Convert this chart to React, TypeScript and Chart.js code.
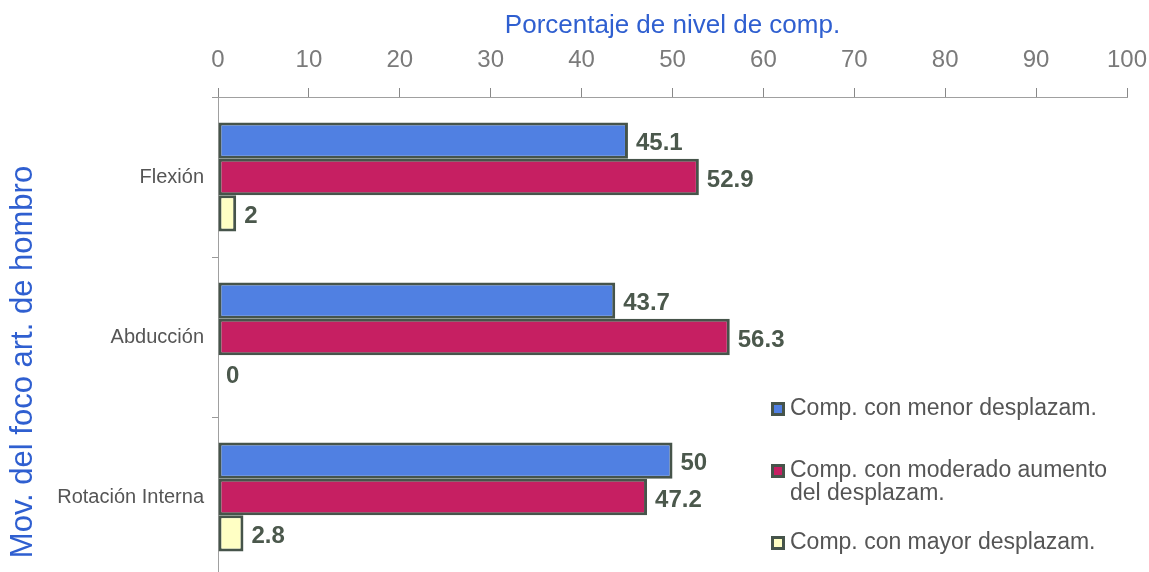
import React, { useEffect, useRef } from "react";
import { Chart, registerables } from "chart.js";

Chart.register(...registerables);

const categories = ["Flexión", "Abducción", "Rotación Interna"];
const seriesNames = [
  "Comp. con menor desplazam.",
  "Comp. con moderado aumento del desplazam.",
  "Comp. con mayor desplazam.",
];
const legendLines = [
  ["Comp. con menor desplazam."],
  ["Comp. con moderado aumento", "del desplazam."],
  ["Comp. con mayor desplazam."],
];
const menor = [45.1, 43.7, 50];
const moderado = [52.9, 56.3, 47.2];
const mayor = [2, 0, 2.8];
const xTicks = [0, 10, 20, 30, 40, 50, 60, 70, 80, 90, 100];

const fills = ["#5080e2", "#c61f62", "#ffffc4"];
const edge = "#46544a";
const blueText = "#2f5fd0";
const FONT = "Arial, 'Liberation Sans', sans-serif";

const valueLabels = {
  id: "valueLabels",
  afterDatasetsDraw(chart: any) {
    const ctx = chart.ctx;
    ctx.save();
    ctx.font = `bold 24px ${FONT}`;
    ctx.fillStyle = "#4b584c";
    ctx.textAlign = "left";
    ctx.textBaseline = "middle";
    chart.data.datasets.forEach((ds: any, di: number) => {
      const meta = chart.getDatasetMeta(di);
      meta.data.forEach((bar: any, i: number) => {
        ctx.fillText(String(ds.data[i]), bar.x + 8, bar.y + 3);
      });
    });
    ctx.restore();
  },
};

const sideLegend = {
  id: "sideLegend",
  afterDraw(chart: any) {
    const ctx = chart.ctx;
    ctx.save();
    const boxX = 771;
    const textX = 790;
    const rows = [409, 471, 543];
    ctx.font = `23px ${FONT}`;
    ctx.textAlign = "left";
    ctx.textBaseline = "middle";
    legendLines.forEach((lines, i) => {
      const y = rows[i];
      ctx.fillStyle = edge;
      ctx.fillRect(boxX, y - 7, 14, 14);
      ctx.fillStyle = fills[i];
      ctx.fillRect(boxX + 3, y - 4, 8, 8);
      ctx.fillStyle = "#555555";
      lines.forEach((line, j) => {
        ctx.fillText(line, textX, y + j * 23);
      });
    });
    // vertical axis title
    ctx.translate(23, 362);
    ctx.rotate(-Math.PI / 2);
    ctx.font = `31px ${FONT}`;
    ctx.fillStyle = blueText;
    ctx.textAlign = "center";
    ctx.textBaseline = "middle";
    ctx.fillText("Mov. del foco art. de hombro", 0, 0);
    ctx.restore();
  },
};

export default function App() {
  const ref = useRef<HTMLCanvasElement | null>(null);

  useEffect(() => {
    if (!ref.current) return;
    const values = [menor, moderado, mayor];
    const chart = new Chart(ref.current, {
      type: "bar",
      data: {
        labels: categories,
        datasets: seriesNames.map((name, i) => ({
          label: name,
          data: values[i],
          backgroundColor: fills[i],
          borderColor: edge,
          borderWidth: 3,
          borderSkipped: false,
          categoryPercentage: 0.68,
          barPercentage: 1,
        })),
      },
      options: {
        indexAxis: "y",
        animation: false,
        responsive: false,
        maintainAspectRatio: false,
        layout: { padding: { left: 0, right: 22, top: 0, bottom: 0 } },
        plugins: {
          legend: { display: false },
          tooltip: { enabled: false },
        },
        scales: {
          x: {
            position: "top",
            min: 0,
            max: 100,
            afterBuildTicks: (scale: any) => {
              scale.ticks = xTicks.map((v) => ({ value: v }));
            },
            afterFit: (scale: any) => {
              scale.height = 97;
              scale.paddingLeft = 0;
              scale.paddingRight = 0;
            },
            grid: {
              drawOnChartArea: false,
              drawTicks: true,
              tickLength: 9,
              color: "#888888",
            },
            border: { display: true, color: "#a0a0a0", width: 1 },
            ticks: {
              color: "#7a7a7a",
              font: { family: FONT, size: 24 },
              padding: 13,
              maxRotation: 0,
            },
            title: {
              display: true,
              text: "Porcentaje de nivel de comp.",
              color: blueText,
              font: { family: FONT, size: 26 },
              padding: { top: 10, bottom: 0 },
            },
          },
          y: {
            afterFit: (scale: any) => {
              scale.width = 218;
              scale.paddingTop = 0;
              scale.paddingBottom = 0;
            },
            grid: {
              drawOnChartArea: false,
              drawTicks: true,
              tickLength: 6,
              color: "#999999",
            },
            border: { display: true, color: "#a0a0a0", width: 1 },
            ticks: {
              color: "#555555",
              font: { family: FONT, size: 20 },
              padding: 8,
            },
          },
        },
      },
      plugins: [valueLabels, sideLegend],
    });
    return () => chart.destroy();
  }, []);

  return (
    <div
      style={{
        position: "fixed",
        left: 0,
        top: 0,
        width: 1149,
        height: 572,
        overflow: "hidden",
        background: "#ffffff",
      }}
    >
      <canvas ref={ref} width={1149} height={577} style={{ display: "block" }} />
    </div>
  );
}
